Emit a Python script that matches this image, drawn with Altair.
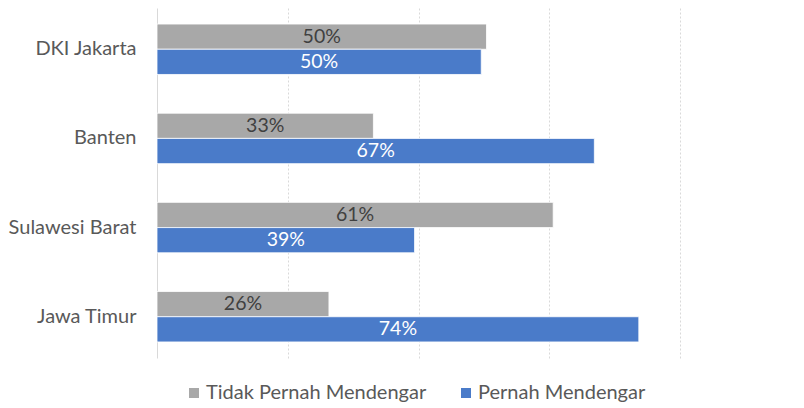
import altair as alt
import pandas as pd

categories = ["DKI Jakarta", "Banten", "Sulawesi Barat", "Jawa Timur"]
series_names = ["Tidak Pernah Mendengar", "Pernah Mendengar"]
tidak_pernah = [0.504, 0.331, 0.606, 0.263]
pernah = [0.496, 0.669, 0.394, 0.737]
tidak_labels = ["50%", "33%", "61%", "26%"]
pernah_labels = ["50%", "67%", "39%", "74%"]
colors = ["#A8A8A8", "#4A7BC9"]
grid_values = [0.2, 0.4, 0.6, 0.8]

rows = []
for i, c in enumerate(categories):
    rows.append({"cat": c, "series": series_names[0], "value": tidak_pernah[i], "label": tidak_labels[i]})
    rows.append({"cat": c, "series": series_names[1], "value": pernah[i], "label": pernah_labels[i]})
df = pd.DataFrame(rows)

FONT = "Lato"

y = alt.Y(
    "cat:N", sort=categories, title=None,
    scale=alt.Scale(paddingInner=0.4345, paddingOuter=0.18),
    axis=alt.Axis(ticks=False, domainColor="#D9D9D9", domainWidth=1,
                  labelColor="#595959", labelFontSize=20, labelFont=FONT,
                  labelPadding=21, labelLimit=0),
)
yoff = alt.YOffset("series:N", sort=series_names,
                   scale=alt.Scale(paddingInner=0, paddingOuter=0))

base = alt.Chart(df).encode(y=y, yOffset=yoff)

bars = base.mark_bar(stroke="white", strokeWidth=0.8).encode(
    x=alt.X("value:Q", scale=alt.Scale(domain=[0, 0.8]),
            axis=alt.Axis(values=grid_values, labels=False, ticks=False, domain=False,
                          grid=True, gridColor="#D9D9D9", gridDash=[2, 2], title=None)),
    color=alt.Color("series:N", scale=alt.Scale(domain=series_names, range=colors),
                    legend=alt.Legend(orient="none", legendX=27, legendY=375,
                                      direction="horizontal", title=None,
                                      symbolType="square", symbolSize=100,
                                      symbolStrokeWidth=0, labelFontSize=20,
                                      labelColor="#595959", labelFont=FONT,
                                      labelLimit=0,
                                      columnPadding=29, labelOffset=2, padding=0)),
)

labels = base.mark_text(font=FONT, fontSize=19.5).transform_calculate(
    mid="datum.value / 2"
).encode(
    x=alt.X("mid:Q"),
    text=alt.Text("label:N"),
    color=alt.condition("datum.series == 'Pernah Mendengar'",
                        alt.value("white"), alt.value("#404040")),
)

chart = alt.layer(bars, labels).properties(
    width=523, height=350,
    autosize=alt.AutoSizeParams(type="none"),
    padding={"left": 149, "top": 0, "right": 100, "bottom": 50},
).configure_view(stroke=None)

chart.save("out.html", embed_options={"renderer": "svg", "actions": False})
